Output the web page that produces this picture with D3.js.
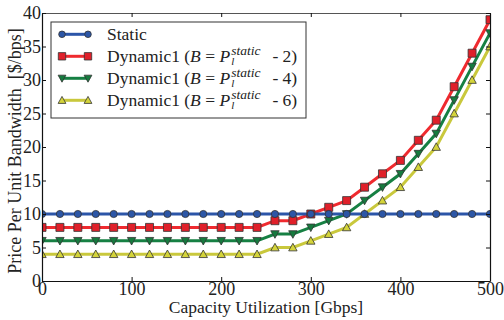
<!DOCTYPE html>
<html lang="en">
<head>
	<title>Price per unit bandwidth</title>
	<script src="https://d3js.org/d3.v7.min.js" charset="utf-8"></script>
	<style>
		body { margin: 0; background: #fff; }
		text { font-family: "Liberation Serif", "Times New Roman", serif; fill: #222; }
	</style>
</head>
<body>
	<script>
		// Data
		var capacity = d3.range(0, 501, 20);
		var staticPrice = capacity.map(function() { return 10; });
		var dyn2 = [8,8,8,8,8,8,8,8,8,8,8,8,8,9,9,10,11,12,14,16,18,21,24,29,34,39];
		var dyn4 = [6,6,6,6,6,6,6,6,6,6,6,6,6,7,7,8,9,10,12,14,16,19,22,27,32,37];
		var dyn6 = [4,4,4,4,4,4,4,4,4,4,4,4,4,5,5,6,7,8,10,12,14,17,20,25,30,35];
		var xTicks = [0, 100, 200, 300, 400, 500];
		var yTicks = [0, 5, 10, 15, 20, 25, 30, 35, 40];

		var series = [
			{ name: "Static", values: staticPrice, line: "#2b55a8", fill: "#2c56a6", marker: "circle" },
			{ name: "2", values: dyn2, line: "#ef2a2f", fill: "#e0202a", marker: "square" },
			{ name: "4", values: dyn4, line: "#168043", fill: "#167a3e", marker: "down" },
			{ name: "6", values: dyn6, line: "#c9c83c", fill: "#d4d43a", marker: "up" }
		];

		var width = 504, height = 320;
		var plotLeft = 42, plotRight = 490, plotTop = 13, plotBottom = 281;

		var svg = d3.select("body").append("svg")
			.attr("width", width)
			.attr("height", height);

		var x = d3.scaleLinear().domain([0, 500]).range([plotLeft, plotRight]);
		var y = d3.scaleLinear().domain([0, 40]).range([plotBottom, plotTop]);

		svg.append("defs").append("clipPath").attr("id", "plot")
			.append("rect")
			.attr("x", plotLeft).attr("y", plotTop)
			.attr("width", plotRight - plotLeft).attr("height", plotBottom - plotTop);

		function markerPath(type, s) {
			if (type === "square") return "M" + (-s) + "," + (-s) + "h" + 2 * s + "v" + 2 * s + "h" + (-2 * s) + "Z";
			if (type === "down") return "M" + (-s) + "," + (-s * 0.8) + "L" + s + "," + (-s * 0.8) + "L0," + s + "Z";
			if (type === "up") return "M" + (-s) + "," + (s * 0.8) + "L" + s + "," + (s * 0.8) + "L0," + (-s) + "Z";
			return d3.symbol(d3.symbolCircle, Math.PI * s * s)();
		}
		var markerSize = { circle: 3.6, square: 4, down: 4.2, up: 4.2 };

		// lines and markers
		var plot = svg.append("g").attr("clip-path", "url(#plot)");
		var line = d3.line()
			.x(function(d, i) { return x(capacity[i]); })
			.y(function(d) { return y(d); });

		series.slice().reverse().forEach(function(s) {
			plot.append("path")
				.attr("d", line(s.values))
				.attr("fill", "none")
				.attr("stroke", s.line)
				.attr("stroke-width", 3);
		});
		series.slice().reverse().forEach(function(s) {
			plot.selectAll(null)
				.data(s.values)
				.enter()
				.append("path")
				.attr("transform", function(d, i) { return "translate(" + x(capacity[i]) + "," + y(d) + ")"; })
				.attr("d", markerPath(s.marker, markerSize[s.marker]))
				.attr("fill", s.fill)
				.attr("stroke", "#333")
				.attr("stroke-width", 0.8);
		});

		// axes (ticks pointing inward)
		svg.append("g")
			.attr("transform", "translate(0," + plotTop + ")")
			.call(d3.axisTop(x).tickValues(xTicks).tickSizeInner(-4).tickSizeOuter(0).tickFormat(""))
			.select(".domain").attr("stroke", "#555");
		svg.append("g")
			.attr("transform", "translate(" + plotRight + ",0)")
			.call(d3.axisRight(y).tickValues(yTicks).tickSizeInner(-4).tickSizeOuter(0).tickFormat(""));
		svg.append("g")
			.attr("transform", "translate(0," + plotBottom + ")")
			.call(d3.axisBottom(x).tickValues(xTicks).tickSizeInner(-4).tickSizeOuter(0).tickPadding(1));
		svg.append("g")
			.attr("transform", "translate(" + plotLeft + ",0)")
			.call(d3.axisLeft(y).tickValues(yTicks).tickSizeInner(-4).tickSizeOuter(0).tickPadding(1));

		svg.selectAll(".domain").attr("stroke-width", 1.2)
			.filter(function() { return d3.select(this).attr("stroke") !== "#555"; })
			.attr("stroke", "#111");
		svg.selectAll(".tick line").attr("stroke", "#111");
		svg.selectAll(".tick text")
			.style("font-family", "'Liberation Serif', serif")
			.attr("font-size", 18)
			.attr("fill", "#222");

		// axis titles
		svg.append("text")
			.attr("x", 266)
			.attr("y", 313)
			.attr("text-anchor", "middle")
			.attr("font-size", 17.5)
			.text("Capacity Utilization [Gbps]");
		svg.append("text")
			.attr("transform", "translate(21,151) rotate(-90)")
			.attr("text-anchor", "middle")
			.attr("font-size", 18)
			.attr("xml:space", "preserve")
			.text("Price Per Unit Bandwidth  [$/bps]");

		// legend
		var legend = svg.append("g");
		legend.append("rect")
			.attr("x", 51).attr("y", 22)
			.attr("width", 255).attr("height", 96)
			.attr("fill", "#fff")
			.attr("stroke", "#333")
			.attr("stroke-width", 1);

		series.forEach(function(s, i) {
			var ly = 34.3 + i * 22;
			legend.append("line")
				.attr("x1", 62).attr("x2", 88)
				.attr("y1", ly).attr("y2", ly)
				.attr("stroke", s.line).attr("stroke-width", 3);
			[62, 88].forEach(function(mx) {
				legend.append("path")
					.attr("transform", "translate(" + mx + "," + ly + ")")
					.attr("d", markerPath(s.marker, markerSize[s.marker] - 0.3))
					.attr("fill", s.fill)
					.attr("stroke", "#333")
					.attr("stroke-width", 0.8);
			});
			var tx = 107, ty = ly + 6;
			if (s.name === "Static") {
				legend.append("text").attr("x", tx).attr("y", ty).attr("font-size", 17.5).text("Static");
			} else {
				var t = legend.append("text").attr("x", tx).attr("y", ty).attr("font-size", 17.5)
					.attr("xml:space", "preserve");
				t.append("tspan").text("Dynamic1 (");
				t.append("tspan").attr("font-style", "italic").text("B");
				t.append("tspan").text(" = ");
				t.append("tspan").attr("font-style", "italic").text("P");
				var w = t.node().getComputedTextLength();
				var sup = legend.append("text")
					.attr("x", tx + w + 1).attr("y", ty - 7.5)
					.attr("font-size", 13.5).attr("font-style", "italic")
					.text("static");
				legend.append("text")
					.attr("x", tx + w + 1).attr("y", ty + 3)
					.attr("font-size", 11).attr("font-style", "italic")
					.text("l");
				var sw = sup.node().getComputedTextLength();
				legend.append("text")
					.attr("x", tx + w + sw + 13).attr("y", ty)
					.attr("font-size", 17.5)
					.text("- " + s.name + ")");
			}
		});
	</script>
</body>
</html>
